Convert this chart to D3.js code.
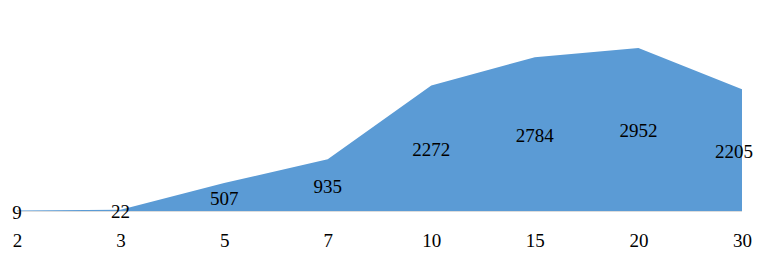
<!DOCTYPE html>
<html><head><meta charset="utf-8">
<script src="https://cdn.jsdelivr.net/npm/d3@7"></script>
<style>body{margin:0;background:#fff}svg{display:block}</style>
</head><body>
<script>
const categories = ["2","3","5","7","10","15","20","30"];
const values = [9,22,507,935,2272,2784,2952,2205];

const W = 763, H = 263;
const svg = d3.select("body").append("svg").attr("width", W).attr("height", H);

const x = d3.scalePoint().domain(categories).range([17, 742]);
const y = d3.scaleLinear().domain([0, 3000]).range([211, 45.3]);

const data = categories.map((c, i) => ({c, v: values[i]}));

svg.append("line").attr("x1", 17).attr("x2", 742).attr("y1", 211.5).attr("y2", 211.5)
  .attr("stroke", "#dcdcdc").attr("stroke-width", 1);

const area = d3.area().x(d => x(d.c)).y0(y(0)).y1(d => y(d.v));
svg.append("path").datum(data).attr("d", area).attr("fill", "#5b9bd5");

const font = "'Liberation Serif', 'DejaVu Serif', serif";
const labels = svg.selectAll("text.lbl").data(data).enter().append("text")
  .attr("class", "lbl")
  .attr("x", d => x(d.c))
  .attr("y", d => (y(d.v) + y(0)) / 2 + 1.5)
  .attr("text-anchor", "middle").attr("dominant-baseline", "central")
  .attr("font-family", font).attr("font-size", 19).attr("fill", "#000")
  .text(d => d.v);
// keep labels inside the plot's right edge
labels.each(function(d) {
  const w = this.getComputedTextLength();
  const cx = Math.min(x(d.c), 753 - w / 2);
  d3.select(this).attr("x", cx);
});

const axis = d3.axisBottom(x).tickSize(0).tickPadding(0);
const g = svg.append("g").attr("transform", "translate(0,240)").call(axis);
g.select(".domain").remove();
g.selectAll("text").attr("font-family", font).attr("font-size", 19).attr("fill", "#000")
  .attr("dy", null).attr("y", 0).attr("dominant-baseline", "central");
</script>
</body></html>
